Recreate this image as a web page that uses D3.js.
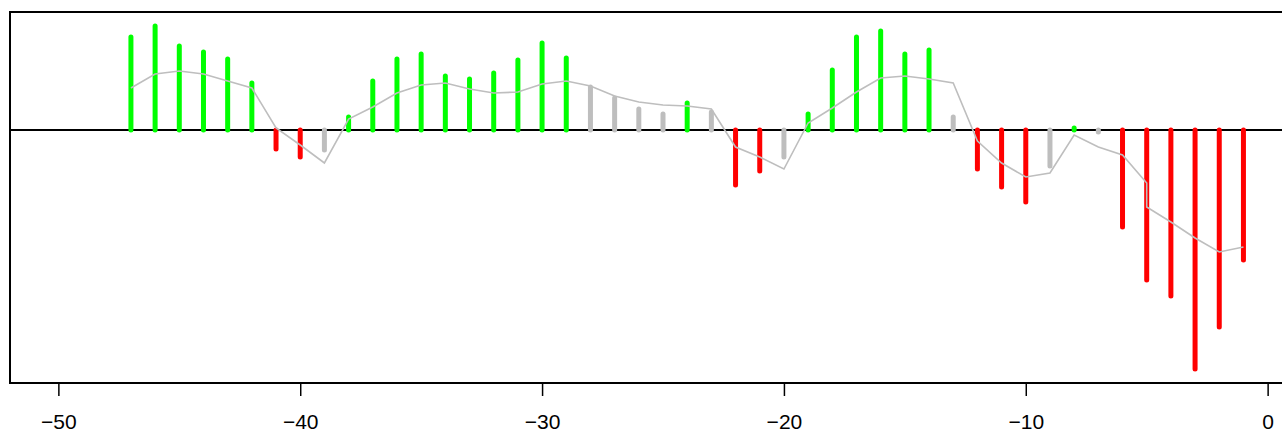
<!DOCTYPE html>
<html>
<head>
<meta charset="utf-8">
<script src="https://cdn.jsdelivr.net/npm/d3@7"></script>
<style>
  body { margin: 0; background: #fff; }
  svg { display: block; }
  text { font-family: "Liberation Sans", Arial, sans-serif; }
</style>
</head>
<body>
<div id="vis"></div>
<script>
// days before the event (x) and the daily value shown as a bar
const days = [
  -47, -46, -45, -44, -43, -42, -41, -40, -39, -38, -37, -36, -35, -34, -33, -32,
  -31, -30, -29, -28, -27, -26, -25, -24, -23, -22, -21, -20, -19, -18, -17, -16,
  -15, -14, -13, -12, -11, -10, -9, -8, -7, -6, -5, -4, -3, -2, -1
];
const barValues = [
  9.3, 10.4, 8.4, 7.8, 7.1, 4.7, -1.9, -2.7, -2.0, 1.3, 4.9, 7.1, 7.6, 5.4, 5.1, 5.7,
  7.0, 8.7, 7.2, 4.3, 3.2, 2.1, 1.6, 2.7, 1.8, -5.5, -4.1, -2.7, 1.6, 6.0, 9.3, 9.9,
  7.6, 8.0, 1.3, -3.9, -5.7, -7.2, -3.6, 0.2, -0.2, -9.7, -15.0, -16.6, -23.9, -19.7, -13.0
];
// "up", "down" or "flat" for each bar
const barClass = [
  "up", "up", "up", "up", "up", "up", "down", "down", "flat", "up", "up", "up", "up", "up", "up", "up",
  "up", "up", "up", "flat", "flat", "flat", "flat", "up", "flat", "down", "down", "flat", "up", "up", "up", "up",
  "up", "up", "flat", "down", "down", "down", "flat", "up", "flat", "down", "down", "down", "down", "down", "down"
];

// smoothed line (one day has two points)
const lineDays = [
  -47, -46, -45, -44, -43, -42, -41, -40, -39, -38, -37, -36, -35, -34, -33, -32,
  -31, -30, -29, -28, -27, -26, -25, -24, -23, -22, -21, -20, -19, -18, -17, -16,
  -15, -14, -13, -12, -11, -10, -9, -8, -7, -6, -5, -5, -4, -3, -2, -1
];
const lineValues = [
  4.2, 5.6, 5.9, 5.6, 4.9, 4.2, 0.2, -1.5, -3.3, 1.1, 2.3, 3.7, 4.5, 4.7, 4.1, 3.7,
  3.8, 4.6, 4.9, 4.4, 3.4, 2.8, 2.5, 2.4, 2.1, -1.7, -2.7, -3.9, 0.7, 2.2, 3.8, 5.2,
  5.4, 5.1, 4.7, -1.1, -3.3, -4.7, -4.3, -0.5, -1.7, -2.5, -5.3, -7.7, -9.2, -10.8, -12.2, -11.7
];

const xTicks = [-50, -40, -30, -20, -10, 0];

const WIDTH = 1282;
const HEIGHT = 430;
const PLOT = { left: 10, right: 1316, top: 12, bottom: 383 };

const COLORS = { up: "#00ff00", down: "#ff0000", flat: "#bebebe" };

const SVG = d3.select("#vis").append("svg")
  .attr("width", WIDTH)
  .attr("height", HEIGHT);

// R style: range of the data extended by 4% on each side
const xScale = d3.scaleLinear()
  .domain([-52, 2])
  .range([PLOT.left, PLOT.right]);

const yScale = d3.scaleLinear()
  .domain([-25.3, 11.8])
  .range([PLOT.bottom, PLOT.top]);

const bars = days.map((d, i) => ({ day: d, value: barValues[i], cls: barClass[i] }));
const linePoints = lineDays.map((d, i) => ({ day: d, value: lineValues[i] }));

// zero line
SVG.append("line")
  .attr("x1", PLOT.left)
  .attr("x2", WIDTH)
  .attr("y1", yScale(0))
  .attr("y2", yScale(0))
  .attr("stroke", "#000")
  .attr("stroke-width", 2);

// bars (type = "h")
SVG.append("g")
  .selectAll("line")
  .data(bars)
  .join("line")
  .attr("x1", (d) => xScale(d.day))
  .attr("x2", (d) => xScale(d.day))
  .attr("y1", yScale(0))
  .attr("y2", (d) => yScale(d.value))
  .attr("stroke", (d) => COLORS[d.cls])
  .attr("stroke-width", 5)
  .attr("stroke-linecap", "round");

// smoothed line on top
const line = d3.line()
  .x((d) => xScale(d.day))
  .y((d) => yScale(d.value));

SVG.append("path")
  .datum(linePoints)
  .attr("d", line)
  .attr("fill", "none")
  .attr("stroke", "#bebebe")
  .attr("stroke-width", 1.6);

// box
SVG.append("rect")
  .attr("x", PLOT.left)
  .attr("y", PLOT.top)
  .attr("width", PLOT.right - PLOT.left)
  .attr("height", PLOT.bottom - PLOT.top)
  .attr("fill", "none")
  .attr("stroke", "#000")
  .attr("stroke-width", 2);

// x axis, line only between first and last tick
const xAxis = d3.axisBottom(xScale)
  .tickValues(xTicks)
  .tickSize(13)
  .tickSizeOuter(0)
  .tickPadding(18)
  .tickFormat(d3.format("d"));

const axisG = SVG.append("g")
  .attr("transform", `translate(0, ${PLOT.bottom})`)
  .call(xAxis);

axisG.select(".domain").remove();
axisG.append("line")
  .attr("x1", xScale(xTicks[0]))
  .attr("x2", xScale(xTicks[xTicks.length - 1]))
  .attr("stroke", "#000")
  .attr("stroke-width", 2);
axisG.selectAll(".tick line").attr("stroke-width", 1.5);
axisG.selectAll(".tick text")
  .attr("font-size", 21)
  .attr("font-family", "'Liberation Sans', Arial, sans-serif")
  .attr("fill", "#000");
</script>
</body>
</html>
